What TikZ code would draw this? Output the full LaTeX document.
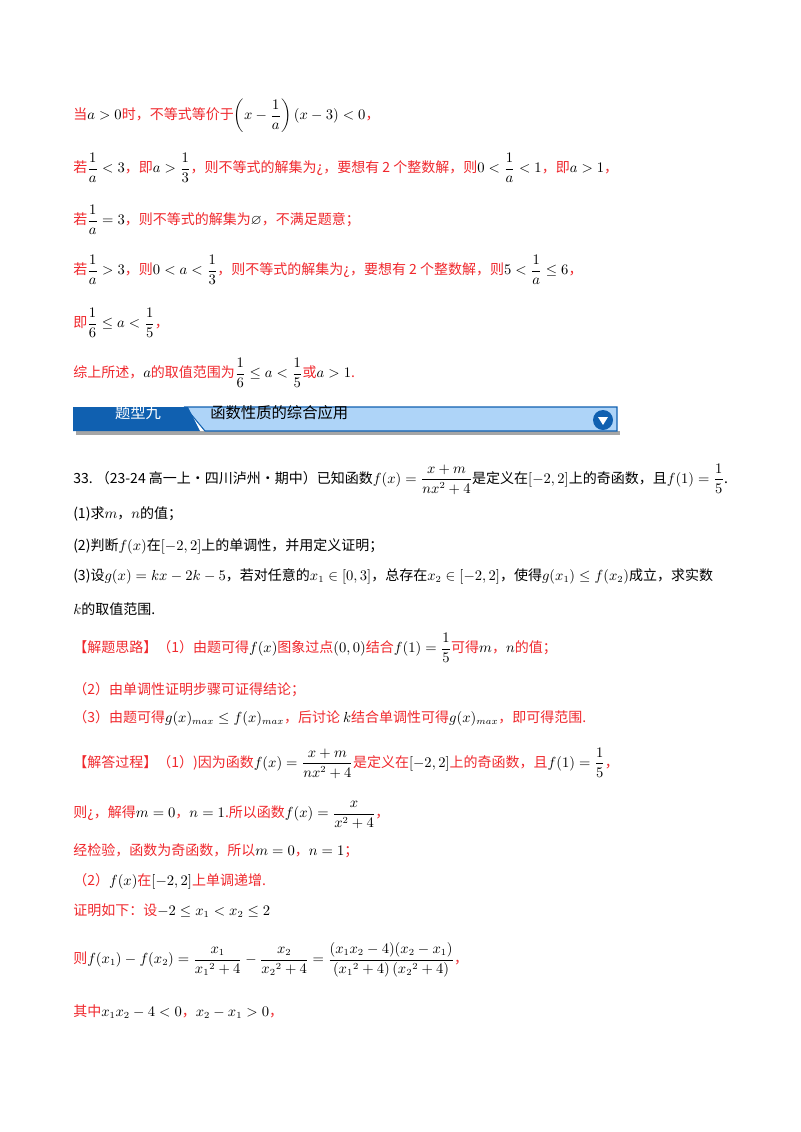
\documentclass[tikz,border=0pt]{standalone}
\usepackage{amsmath,amssymb}
\usepackage{fontspec}
\setmainfont{Noto Sans CJK SC}
\usetikzlibrary{calc}
\definecolor{myred}{HTML}{F0282D}
\definecolor{tabblue}{HTML}{1060B0}
\definecolor{barblue}{HTML}{AED4F8}
\newcommand\M[1]{\textcolor{black}{$#1$}}
\tikzset{
 txt/.style={anchor=west, inner sep=0pt, font=\fontsize{10.5}{13}\selectfont, text=black},
 rtxt/.style={txt, text=myred},
}
\begin{document}
\begin{tikzpicture}[x=0.75pt,y=-0.75pt]
\useasboundingbox (0,0) rectangle (800,1132);
\fill[white] (0,0) rectangle (800,1132);
\node[rtxt] (l1) at (73,116) {当\M{a>0}时，不等式等价于\M{\left(x-\dfrac1a\right)(x-3)<0}，};
\node[rtxt] (l2) at (73,168) {若\M{\dfrac1a<3}，即\M{a>\dfrac13}，则不等式的解集为¿，要想有 2 个整数解，则\M{0<\dfrac1a<1}，即\M{a>1}，};
\node[rtxt] (l3) at (73,220) {若\M{\dfrac1a=3}，则不等式的解集为\M{\varnothing}，不满足题意；};
\node[rtxt] (l4) at (73,270) {若\M{\dfrac1a>3}，则\M{0<a<\dfrac13}，则不等式的解集为¿，要想有 2 个整数解，则\M{5<\dfrac1a\le6}，};
\node[rtxt] (l5) at (73,323) {即\M{\dfrac16\le a<\dfrac15}，};
\node[rtxt] (l6) at (73,373) {综上所述，\M{a}的取值范围为\M{\dfrac16\le a<\dfrac15}或\M{a>1}.};
% banner
\fill[black!35] (76,431) -- (620,431) -- (620,435) -- (76,435) -- cycle;
\fill[barblue, draw=tabblue, line width=0.8pt] (185,407) -- (617,407) -- (617,431) -- (205,431) -- cycle;
\fill[tabblue] (73,407) -- (188,407) -- (200,431) -- (73,431) -- cycle;
\node[font=\fontsize{11.5}{12}\selectfont, text=white, inner sep=0] (bt) at (138,413) {题型九};
\node[txt, font=\fontsize{11.5}{12}\selectfont] (bs) at (210,413) {函数性质的综合应用};
\node[circle, fill=tabblue, minimum size=15pt, inner sep=0] (ic) at (603,420) {};
\fill[white] ($(ic)+(-5,-3)$) -- ($(ic)+(5,-3)$) -- ($(ic)+(0,5)$) -- cycle;
% problem
\node[txt] (p0) at (73,479) {33.\ （23-24 高一上·四川泸州·期中）已知函数$f(x)=\dfrac{x+m}{nx^2+4}$是定义在$[-2,2]$上的奇函数，且$f(1)=\dfrac15$.};
\node[txt] (p1) at (73,514) {(1)求$m$，$n$的值；};
\node[txt] (p2) at (73,546) {(2)判断$f(x)$在$[-2,2]$上的单调性，并用定义证明；};
\node[txt] (p3) at (73,576) {(3)设$g(x)=kx-2k-5$，若对任意的$x_1\in[0,3]$，总存在$x_2\in[-2,2]$，使得$g(x_1)\le f(x_2)$成立，求实数};
\node[txt] (p4) at (73,609) {$k$的取值范围.};
% solution
\node[rtxt] (s1) at (73,648) {【解题思路】（1）由题可得\M{f(x)}图象过点\M{(0,0)}结合\M{f(1)=\dfrac15}可得\M{m}，\M{n}的值；};
\node[rtxt] (s2) at (73,690) {（2）由单调性证明步骤可证得结论；};
\node[rtxt] (s3) at (73,718) {（3）由题可得\M{g(x)_{max}\le f(x)_{max}}，后讨论 \M{k}结合单调性可得\M{g(x)_{max}}，即可得范围.};
\node[rtxt] (s4) at (73,763) {【解答过程】（1）)因为函数\M{f(x)=\dfrac{x+m}{nx^2+4}}是定义在\M{[-2,2]}上的奇函数，且\M{f(1)=\dfrac15}，};
\node[rtxt] (s5) at (73,815) {则¿，解得\M{m=0}，\M{n=1}.所以函数\M{f(x)=\dfrac{x}{x^2+4}}，};
\node[rtxt] (s6) at (73,851) {经检验，函数为奇函数，所以\M{m=0}，\M{n=1}；};
\node[rtxt] (s7) at (73,881) {（2）\M{f(x)}在\M{[-2,2]}上单调递增.};
\node[rtxt] (s8) at (73,911) {证明如下：设\M{-2\le x_1<x_2\le2}};
\node[rtxt] (s9) at (73,960) {则\M{f(x_1)-f(x_2)=\dfrac{x_1}{{x_1}^{2}+4}-\dfrac{x_2}{{x_2}^{2}+4}=\dfrac{(x_1x_2-4)(x_2-x_1)}{\left({x_1}^{2}+4\right)\left({x_2}^{2}+4\right)}}，};
\node[rtxt] (s10) at (73,1012) {其中\M{x_1x_2-4<0}，\M{x_2-x_1>0}，};
\end{tikzpicture}
\end{document}
